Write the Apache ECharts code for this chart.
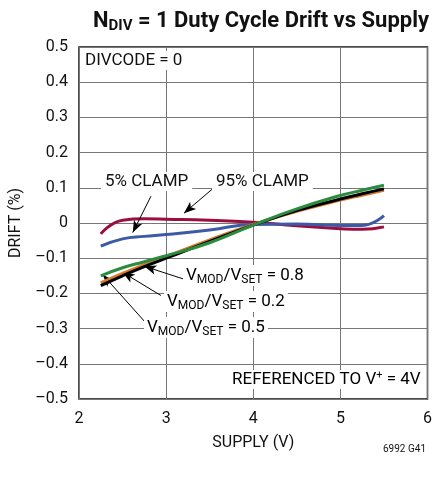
<!DOCTYPE html>
<html>
<head>
<meta charset="utf-8">
<script src="https://cdn.jsdelivr.net/npm/echarts@6/dist/echarts.min.js"></script>
<style>
  html, body { margin: 0; padding: 0; background: #fff; }
  #chart { width: 435px; height: 483px; }
</style>
</head>
<body>
<div id="chart"></div>
<script>
// supply voltage points (V)
const supply = [2.25, 2.5, 2.75, 3, 3.5, 4, 4.5, 5, 5.25, 5.5]

// drift (%) per curve
const clamp95 = [-0.031, 0.008, 0.012, 0.011, 0.008, 0.002, -0.008, -0.016, -0.018, -0.011]
const clamp5 = [-0.066, -0.045, -0.038, -0.033, -0.02, -0.004, -0.003, -0.007, -0.007, 0.021]
const vmod02 = [-0.17, -0.143, -0.118, -0.095, -0.048, -0.004, 0.033, 0.065, 0.079, 0.093]
const vmod05 = [-0.178, -0.15, -0.124, -0.1, -0.052, -0.006, 0.035, 0.068, 0.083, 0.097]
const vmod08 = [-0.15, -0.127, -0.11, -0.093, -0.056, -0.006, 0.04, 0.078, 0.093, 0.107]

const xTicks = [2, 3, 4, 5, 6]
const yTicks = [-0.5, -0.4, -0.3, -0.2, -0.1, 0, 0.1, 0.2, 0.3, 0.4, 0.5]

const font = '"Liberation Sans Narrow", "Roboto", sans-serif'

const pairs = ys => supply.map((x, i) => [x, ys[i]])

// annotation arrows: [from, to] in data coordinates
const arrows = [
  [[2.826, 0.076], [2.617, -0.027]],
  [[3.557, 0.102], [3.205, 0.028]],
  [[3.224, -0.161], [2.75, -0.123]],
  [[2.94, -0.206], [2.5, -0.140]],
  [[2.75, -0.279], [2.273, -0.147]]
]

const myChart = echarts.init(document.getElementById('chart'))

const lineSeries = (name, ys, color, z) => ({
  name,
  type: 'line',
  data: pairs(ys),
  smooth: true,
  showSymbol: false,
  z,
  lineStyle: { color, width: 3 }
})

const vText = (v) => '{n|V}{s|MOD}{n|/V}{s|SET}{n| = ' + v + '}'
const richV = {
  n: { fontFamily: font, fontSize: 17, color: '#111' },
  s: { fontFamily: font, fontSize: 12, color: '#111', verticalAlign: 'bottom', padding: [9, 0, 0, 0] }
}

const option = {
  animation: false,
  backgroundColor: '#fff',
  title: {
    text: '{b|N}{sb|DIV}{b| = 1 Duty Cycle Drift vs Supply}',
    left: 256,
    textAlign: 'center',
    top: 3,
    textStyle: {
      rich: {
        b: { fontFamily: font, fontSize: 22, fontWeight: 'bold', color: '#111' },
        sb: { fontFamily: font, fontSize: 15, fontWeight: 'bold', color: '#111', padding: [11, 0, 0, 0] }
      }
    }
  },
  grid: {
    left: 79,
    right: 5,
    top: 47,
    bottom: 84,
    show: true,
    borderColor: '#111',
    borderWidth: 1.5
  },
  xAxis: {
    type: 'value',
    min: 2,
    max: 6,
    interval: 1,
    name: 'SUPPLY (V)',
    nameLocation: 'middle',
    nameGap: 36,
    nameTextStyle: { fontFamily: font, fontSize: 16, color: '#111' },
    axisLine: { show: false },
    axisTick: { show: false },
    axisLabel: { fontFamily: font, fontSize: 16, color: '#111', margin: 12 },
    splitLine: { lineStyle: { color: '#777', width: 1 } }
  },
  yAxis: {
    type: 'value',
    min: -0.5,
    max: 0.5,
    interval: 0.1,
    name: 'DRIFT (%)',
    nameLocation: 'middle',
    nameGap: 49,
    nameTextStyle: { fontFamily: font, fontSize: 16, color: '#111' },
    axisLine: { show: false },
    axisTick: { show: false },
    axisLabel: {
      fontFamily: font,
      fontSize: 16,
      color: '#111',
      margin: 11,
      formatter: v => {
        const r = Math.round(v * 10) / 10
        if (r === 0) return '0'
        return (r < 0 ? '–' : '') + Math.abs(r).toFixed(1)
      }
    },
    splitLine: { lineStyle: { color: '#777', width: 1 } }
  },
  series: [
    lineSeries('95% CLAMP', clamp95, '#9c0e40', 3),
    lineSeries('5% CLAMP', clamp5, '#3d5aa6', 4),
    lineSeries('VMOD/VSET = 0.2', vmod02, '#d9782d', 5),
    lineSeries('VMOD/VSET = 0.5', vmod05, '#000000', 6),
    lineSeries('VMOD/VSET = 0.8', vmod08, '#2b8c3e', 7),
    {
      type: 'line',
      data: [],
      z: 8,
      markLine: {
        silent: true,
        symbol: ['none', 'arrow'],
        symbolSize: [7, 12],
        label: { show: false },
        lineStyle: { color: '#000', width: 1, type: 'solid' },
        data: arrows.map(a => [{ coord: a[0] }, { coord: a[1] }])
      }
    }
  ],
  graphic: [
    {
      type: 'text', left: 83, top: 51, z: 20,
      style: { text: 'DIVCODE = 0', fontFamily: font, fontSize: 17, fill: '#111', backgroundColor: '#fff', padding: [1, 2] }
    },
    {
      type: 'text', left: 101, top: 172, z: 20,
      style: { text: '5% CLAMP', fontFamily: font, fontSize: 17, fill: '#111', backgroundColor: '#fff', padding: [1, 4] }
    },
    {
      type: 'text', left: 212, top: 172, z: 20,
      style: { text: '95% CLAMP', fontFamily: font, fontSize: 17, fill: '#111', backgroundColor: '#fff', padding: [1, 4] }
    },
    {
      type: 'text', left: 183, top: 265, z: 20,
      style: { text: vText('0.8'), rich: richV, backgroundColor: '#fff', padding: [0, 3] }
    },
    {
      type: 'text', left: 164, top: 291, z: 20,
      style: { text: vText('0.2'), rich: richV, backgroundColor: '#fff', padding: [0, 3] }
    },
    {
      type: 'text', left: 144, top: 317, z: 20,
      style: { text: vText('0.5'), rich: richV, backgroundColor: '#fff', padding: [0, 3] }
    },
    {
      type: 'text', left: 229, top: 370, z: 20,
      style: {
        text: '{n|REFERENCED TO V}{p|+}{n| = 4V}',
        backgroundColor: '#fff',
        padding: [0, 3],
        rich: {
          n: { fontFamily: font, fontSize: 17, color: '#111' },
          p: { fontFamily: font, fontSize: 11, color: '#111', padding: [0, 0, 8, 0] }
        }
      }
    },
    {
      type: 'text', left: 383, top: 444, z: 20,
      style: { text: '6992 G41', fontFamily: font, fontSize: 10, fill: '#111' }
    }
  ]
}

myChart.setOption(option)
</script>
</body>
</html>
